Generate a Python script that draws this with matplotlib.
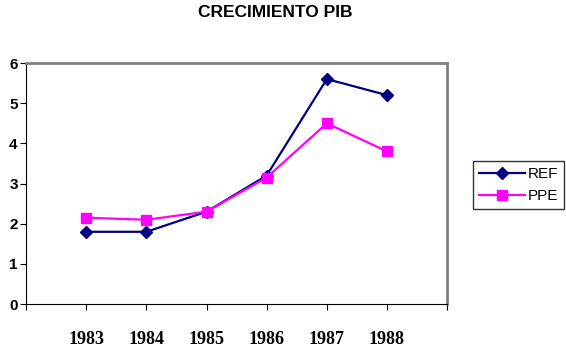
import matplotlib.pyplot as plt

anios = ["1983", "1984", "1985", "1986", "1987", "1988"]
ref = [1.8, 1.8, 2.3, 3.2, 5.6, 5.2]
ppe = [2.15, 2.1, 2.3, 3.15, 4.5, 3.8]

fig = plt.figure(figsize=(5.66, 3.52), dpi=100)
ax = fig.add_axes([0.046, 0.136, 0.744, 0.685])

x = range(1, len(anios) + 1)
ax.plot(x, ref, color="#000080", marker="D", markersize=6, linewidth=1.6, label="REF")
ax.plot(x, ppe, color="#FF00FF", marker="s", markersize=7, linewidth=1.6, label="PPE")

ax.set_xlim(0, 7)
ax.set_ylim(0, 6)
ax.set_xticks(range(0, 8))
ax.set_xticklabels([""] + anios + [""], family="Liberation Serif", fontweight="bold", fontsize=13)
ax.set_yticks(range(0, 7))
ax.set_yticklabels([str(v) for v in range(0, 7)], family="Liberation Sans", fontweight="bold", fontsize=11)
ax.tick_params(axis="x", length=4, pad=15)
ax.tick_params(axis="y", length=4, pad=2)

ax.spines["top"].set_color("#808080")
ax.spines["right"].set_color("#808080")
ax.spines["top"].set_linewidth(2)
ax.spines["right"].set_linewidth(2)

fig.text(0.486, 0.964, "CRECIMIENTO PIB", ha="center", va="center",
         family="Liberation Sans", fontweight="bold", fontsize=12.5)

leg = fig.legend(loc="center", bbox_to_anchor=(0.916, 0.474), frameon=True,
                 fancybox=False, prop={"family": "Liberation Sans", "size": 11},
                 handlelength=3.0, borderpad=0.4, labelspacing=0.5, handletextpad=0.2)
leg.get_frame().set_edgecolor("black")
leg.get_frame().set_linewidth(1)

fig.savefig("out.png", dpi=100)
